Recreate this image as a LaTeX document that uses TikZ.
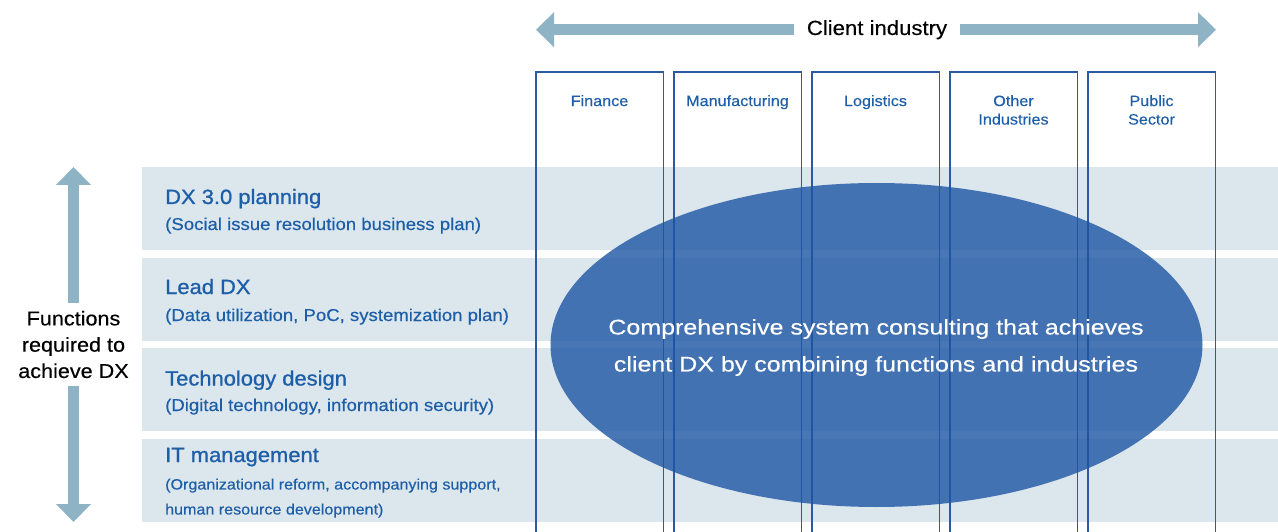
\documentclass[tikz,border=0pt]{standalone}
\usepackage{fontspec}
\setmainfont{Liberation Sans}[FakeStretch=1.08,FakeBold=0.35]
\newfontfamily\widefont{Liberation Sans}[FakeStretch=1.18,FakeBold=0.35]
\newfontfamily\titlefont{Liberation Sans}[FakeStretch=1.06,FakeBold=0.9]
\usetikzlibrary{shapes.geometric,arrows.meta}
\definecolor{bandc}{RGB}{220,230,237}
\definecolor{arrc}{RGB}{141,179,196}
\definecolor{linec}{RGB}{44,88,166}
\definecolor{txtblue}{RGB}{28,94,168}
\definecolor{ellc}{RGB}{28,85,163}
\tikzset{
  band/.style={rectangle, fill=bandc, anchor=north west, inner sep=0pt,
    minimum width=1136pt, minimum height=83pt},
  colbox/.style={rectangle, anchor=north west, inner sep=0pt,
    minimum width=127pt, minimum height=460pt},
  colline/.style={draw=linec, line width=1.2pt},
  colhead/.style={anchor=north, inner sep=0pt, align=center, text=txtblue,
    font=\fontsize{15}{18.5}\selectfont},
  rowtitle/.style={anchor=base west, inner sep=0pt, text=txtblue,
    font=\titlefont\fontsize{20.7}{24}\selectfont},
  rowsub/.style={anchor=base west, inner sep=0pt, text=txtblue,
    font=\fontsize{17.2}{20}\selectfont},
  fatarrow/.style={draw=arrc, line width=11pt,
    -{Triangle[width=34pt,length=18pt]}},
}
\begin{document}
\begin{tikzpicture}[x=1pt,y=-1pt]
\useasboundingbox (0,0) rectangle (1278,532);

% bands
\node[band] (r1) at (142,167) {};
\node[band] (r2) at (142,258) {};
\node[band] (r3) at (142,348) {};
\node[band] (r4) at (142,439) {};

% columns
\node[colbox] (c1) at (536,72) {};
\node[colbox] (c2) at (674,72) {};
\node[colbox] (c3) at (812,72) {};
\node[colbox] (c4) at (950,72) {};
\node[colbox] (c5) at (1088,72) {};
\foreach \c in {c1,c2,c3,c4,c5}{
  \draw[colline] (\c.south west) -- (\c.north west) -- (\c.north east) -- (\c.south east);
}
\node[colhead] (h1) at (599.5,95) {Finance};
\node[colhead] (h2) at (737.5,95) {Manufacturing};
\node[colhead] (h3) at (875.5,95) {Logistics};
\node[colhead] (h4) at (1013.5,95) {Other\\Industries};
\node[colhead] (h5) at (1151.5,95) {Public\\Sector};

% row texts
\node[rowtitle] (t1) at (165,204) {DX 3.0 planning};
\node[rowsub] (s1) at (165,230) {(Social issue resolution business plan)};
\node[rowtitle] (t2) at (165,294) {Lead DX};
\node[rowsub] (s2) at (165,321) {(Data utilization, PoC, systemization plan)};
\node[rowtitle] (t3) at (165,385.5) {Technology design};
\node[rowsub] (s3) at (165,411) {(Digital technology, information security)};
\node[rowtitle] (t4) at (165,462) {IT management};
\node[anchor=north west, inner sep=0pt, align=left, text=txtblue,
  font=\fontsize{14.9}{25}\selectfont] (s4) at (165,478.5)
  {(Organizational reform, accompanying support,\\human resource development)};

% ellipse
\node[ellipse, fill=ellc, fill opacity=0.8, inner sep=0pt,
  minimum width=652pt, minimum height=324pt] (ell) at (876.5,345) {};
\node[text=white, inner sep=0pt, align=center,
  font=\widefont\fontsize{21.2}{37}\selectfont] (ellt) at (876,347.5)
  {Comprehensive system consulting that achieves\\client DX by combining functions and industries};

% top arrow
\node[inner sep=0pt, minimum width=166pt, minimum height=20pt,
  font=\fontsize{20.5}{24}\selectfont] (cli) at (877,29.7) {Client industry};
\coordinate (ltip) at (536,29.7);
\coordinate (rtip) at (1216,29.7);
\draw[fatarrow] (cli.west) -- (ltip);
\draw[fatarrow] (cli.east) -- (rtip);

% left arrow
\node[inner sep=0pt, minimum width=100pt, minimum height=83pt, align=center,
  font=\fontsize{20}{26.3}\selectfont] (fun) at (73.5,344.5)
  {Functions\\required to\\achieve DX};
\coordinate (ttip) at (73.5,167);
\coordinate (btip) at (73.5,522);
\draw[fatarrow] (fun.north) -- (ttip);
\draw[fatarrow] (fun.south) -- (btip);
\end{tikzpicture}
\end{document}
